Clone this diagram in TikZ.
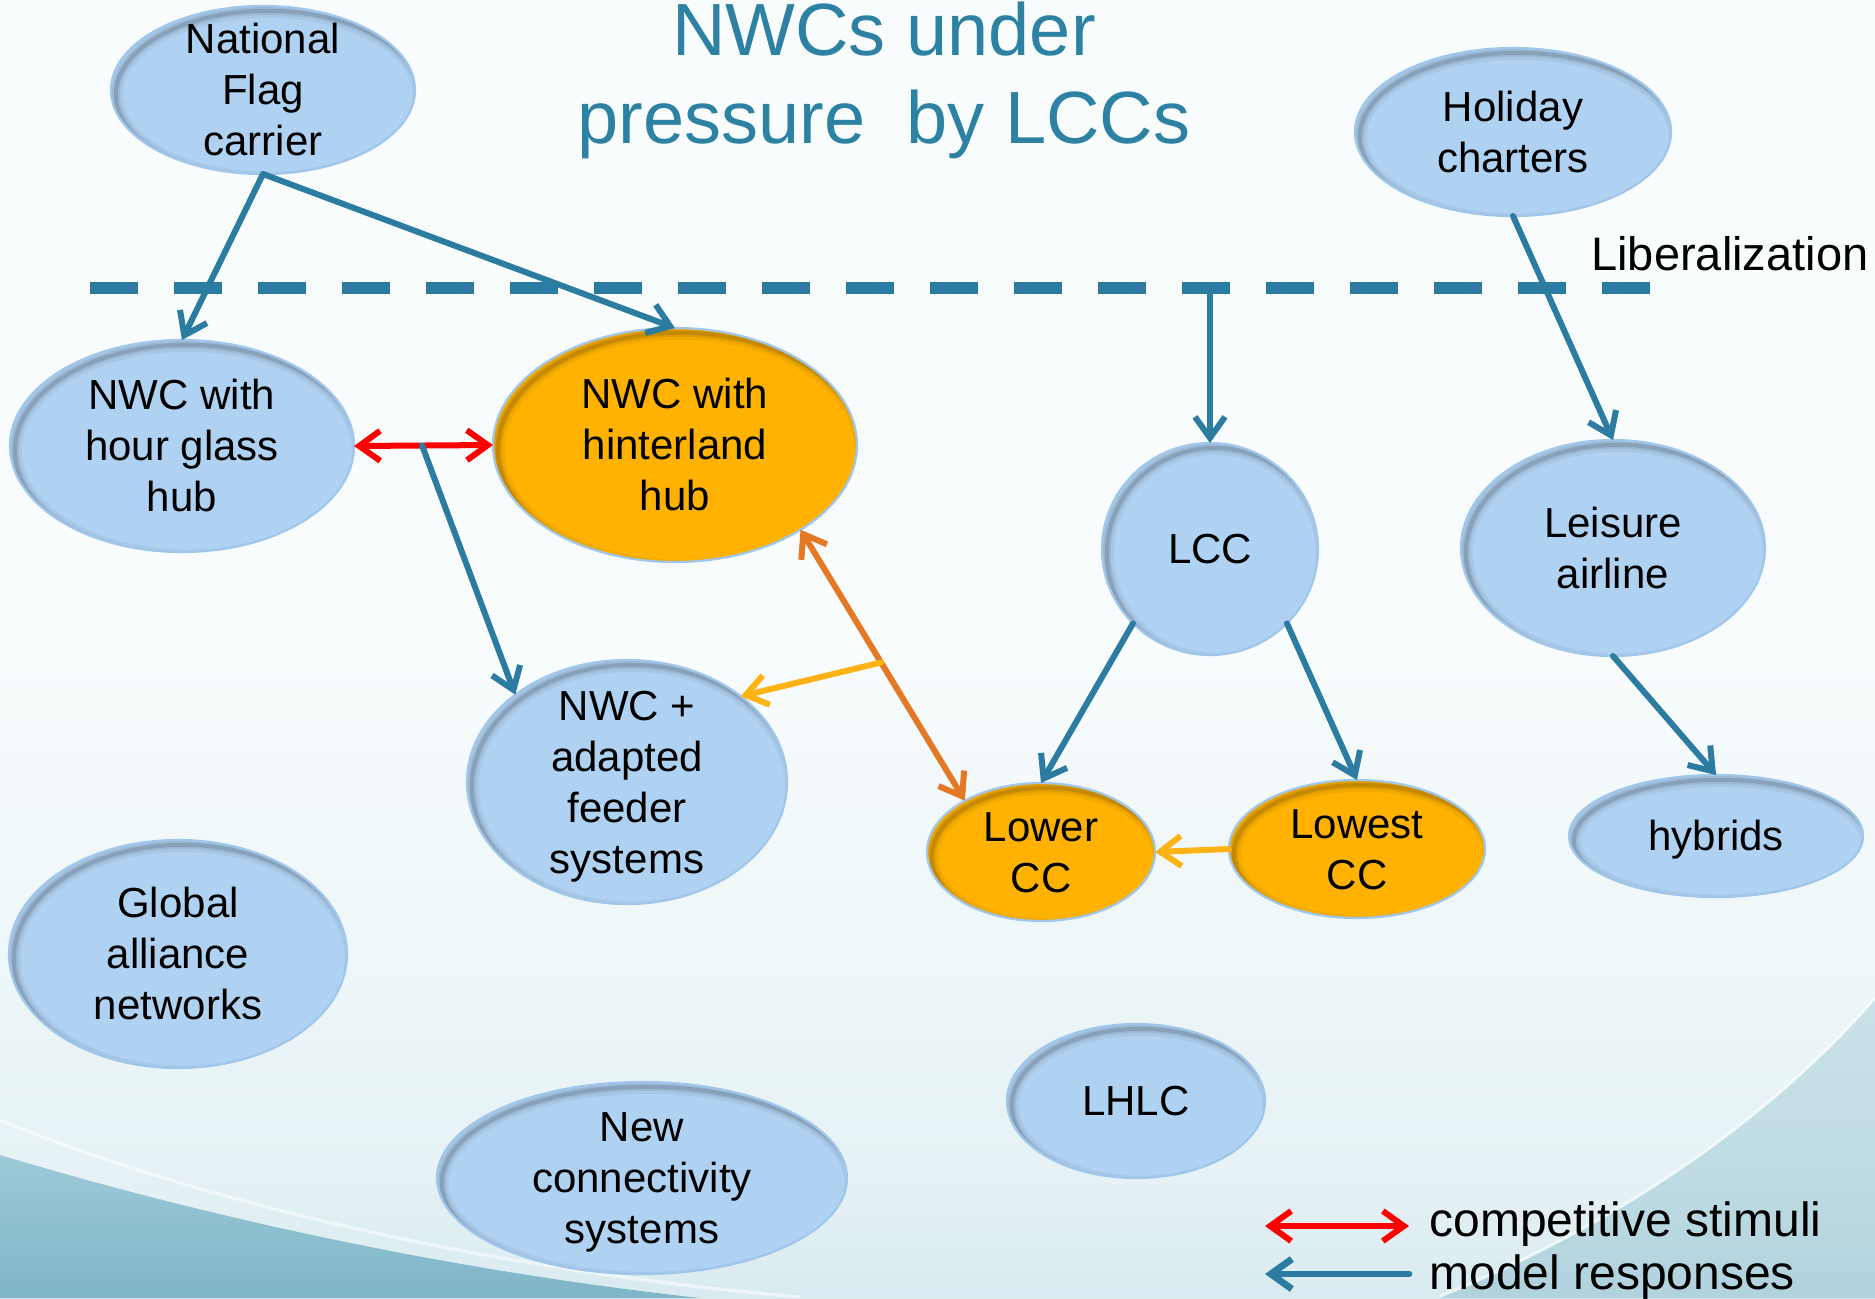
\documentclass[tikz,border=0pt]{standalone}
\usepackage{fontspec}
\setmainfont{Liberation Sans}
\usetikzlibrary{arrows.meta,shapes.geometric,calc}

\definecolor{respteal}{RGB}{43,124,160}
\definecolor{titleblue}{RGB}{45,130,163}
\definecolor{nodeblue}{RGB}{176,210,242}
\definecolor{nodeedge}{RGB}{160,198,236}
\definecolor{hubgold}{RGB}{255,179,0}
\definecolor{stimred}{RGB}{255,0,0}
\definecolor{linkorange}{RGB}{228,120,36}
\definecolor{linkyellow}{RGB}{255,178,20}
\definecolor{bgtop}{RGB}{248,252,253}
\definecolor{bgmid}{RGB}{230,242,245}
\definecolor{bglow}{RGB}{182,215,225}
\definecolor{bgbot}{RGB}{124,182,200}
\definecolor{swooshlight}{RGB}{140,192,208}
\definecolor{swooshdark}{RGB}{104,168,190}

\pgfdeclareverticalshading{pagebg}{100bp}{color(0bp)=(bgbot); color(12bp)=(bglow); color(30bp)=(bgmid); color(50bp)=(bgtop); color(100bp)=(bgtop)}

% zero-size, vertically centred text block for the bubbles
\newcommand{\bubtext}[1]{\raisebox{-4.4pt}{\vbox to 0pt{\vss\hbox to 0pt{\hss\begin{tabular}{@{}c@{}}#1\end{tabular}\hss}\vss}}}

\tikzset{
  vbarb/.tip={Straight Barb[length=10.5pt,width=15pt]},
  esize/.style 2 args={minimum width=#1pt, minimum height=#2pt},
  innershade/.style={path picture={
    \foreach \w/\o in {7pt/0.05,4pt/0.07,2pt/0.12}{
      \draw[black, opacity=\o, line width=\w]
        let \p1=(path picture bounding box.north east),
            \p2=(path picture bounding box.center) in
        ([shift={(2.4pt,-2.4pt)}]\p2) ellipse [x radius={\x1-\x2}, y radius={\y1-\y2}];
    }}},
  bub/.style={ellipse, inner sep=0pt, outer sep=0pt, fill=nodeblue,
    draw=nodeedge, line width=1.1pt, innershade,
    font=\fontsize{21}{25.5}\selectfont},
  hub/.style={bub, fill=hubgold},
  resp/.style={draw=respteal, line width=3pt, line cap=round, -{vbarb}},
  stim/.style={draw=stimred, line width=3pt, {vbarb}-{vbarb}},
  orlink/.style={draw=linkorange, line width=3pt, {vbarb}-{vbarb}},
  yelink/.style={draw=linkyellow, line width=3pt, line cap=round, -{vbarb}},
}

\begin{document}
\begin{tikzpicture}[x=0.5pt, y=-0.5pt]
  % page background
  \useasboundingbox (0,0) rectangle (1875,1298);
  \shade[shading=pagebg] (0,0) rectangle (1875,1298);
  % lower-left sweep
  \shade[top color=swooshlight, bottom color=swooshdark, opacity=0.8]
    (0,1155) .. controls (150,1200) and (400,1265) .. (700,1298) -- (0,1298) -- cycle;
  \draw[white, opacity=0.55, line width=1.6pt] (0,1120) .. controls (120,1170) and (400,1262) .. (800,1297);
  % lower-right sweep
  \shade[top color=swooshlight, bottom color=swooshdark, opacity=0.35]
    (1875,1000) .. controls (1770,1120) and (1620,1225) .. (1440,1298) -- (1875,1298) -- cycle;
  \draw[white, opacity=0.5, line width=1.5pt] (1875,998) .. controls (1770,1118) and (1620,1223) .. (1440,1296);

  % title
  \node[text=titleblue, align=center, inner sep=0pt,
        font=\fontsize{37}{44}\selectfont] (title) at (884,80)
        {NWCs under\\pressure~ by LCCs};

  % liberalization threshold
  \coordinate (dashL) at (90,288);
  \coordinate (dashR) at (1650,288);
  \draw[respteal, line width=6pt, dash pattern=on 24pt off 18pt] (dashL) -- (dashR);
  \node[anchor=base west, inner sep=0pt, font=\fontsize{23.5}{28}\selectfont] (lib) at (1591,270) {Liberalization};

  % carriers
  \node[bub, esize={152}{84}]  (nat)  at (263,90)   {\bubtext{National\\Flag\\carrier}};
  \node[bub, esize={158}{84}]  (hol)  at (1513,132) {\bubtext{Holiday\\charters}};
  \node[bub, esize={172}{106}] (hour) at (182,446)  {\bubtext{NWC with\\hour glass\\hub}};
  \node[hub, esize={182}{117}] (hint) at (675,445)  {\bubtext{NWC with\\hinterland\\hub}};
  \node[bub, esize={108}{106}] (lcc)  at (1210,549) {\bubtext{LCC}};
  \node[bub, esize={152}{108}] (leis) at (1613,548) {\bubtext{Leisure\\airline}};
  \node[bub, esize={160}{122}] (feed) at (627,782)  {\bubtext{NWC +\\adapted\\feeder\\systems}};
  \node[hub, esize={114}{69}]  (lower) at (1041,852) {\bubtext{Lower\\CC}};
  \node[hub, esize={128}{69}]  (lowest) at (1357,849) {\bubtext{Lowest\\CC}};
  \node[bub, esize={147}{61}]  (hyb)  at (1716,836) {\bubtext{hybrids}};
  \node[bub, esize={169}{114}] (glob) at (178,954)  {\bubtext{Global\\alliance\\networks}};
  \node[bub, esize={205}{96}]  (newc) at (642,1178) {\bubtext{New\\connectivity\\systems}};
  \node[bub, esize={129}{77}]  (lhlc) at (1136,1101) {\bubtext{LHLC}};

  % model responses
  \draw[resp] (nat.south) -- (hour.north);
  \draw[resp] (nat.south) -- (hint.north);
  \coordinate (lccsrc) at (1210,288);
  \draw[resp] (lccsrc) -- (lcc.north);
  \draw[resp] (hol.south) -- (leis.north);
  \draw[resp] (lcc.-136) -- (lower.north);
  \draw[resp] (lcc.-44) -- (lowest.north);
  \draw[resp] (leis.south) -- (hyb.north);

  % competitive stimuli
  \draw[stim] (hour.east) -- (hint.west);
  \coordinate (redsplit) at ($(hour.east)!0.49!(hint.west)$);
  \draw[resp] (redsplit) -- (feed.142);
  \draw[orlink] (hint.-34) -- (lower.146);
  \coordinate (orsplit) at ($(hint.-34)!0.49!(lower.146)$);
  \draw[yelink] (orsplit) -- (feed.37);
  \draw[yelink] (lowest.west) -- (lower.east);

  % legend
  \coordinate (legAa) at (1265,1226);
  \coordinate (legAb) at (1409,1226);
  \coordinate (legBa) at (1409,1274);
  \coordinate (legBb) at (1265,1274);
  \draw[stim] (legAa) -- (legAb);
  \draw[resp, line width=3.4pt] (legBa) -- (legBb);
  \node[anchor=base west, inner sep=0pt, font=\fontsize{24}{29}\selectfont] (legA) at (1429,1236) {competitive stimuli};
  \node[anchor=base west, inner sep=0pt, font=\fontsize{24}{29}\selectfont] (legB) at (1429,1289) {model responses};
\end{tikzpicture}
\end{document}
